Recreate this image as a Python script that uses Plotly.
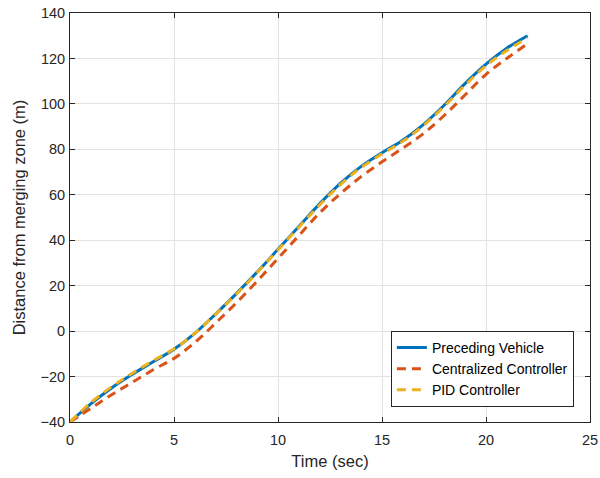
import plotly.graph_objects as go

t = [0, 1, 2, 3, 4, 5, 6, 7, 8, 9, 10, 11, 12, 13, 14, 15, 16, 17, 18, 19, 20, 21, 22]
preceding = [-40, -32, -25, -19, -13.5, -8, -1, 7.5, 16.5, 26, 36, 46, 56, 65, 72.5, 78.5,
             84, 91, 99.5, 109, 117.5, 124.5, 130]
centralized = [-40, -34, -28, -22.5, -17, -12, -5, 3.5, 12.5, 22, 32, 42, 52, 60.5, 68, 74.5,
               80.5, 87, 95, 104, 113, 120, 126.5]
pid = [-40, -31.5, -24.5, -18.5, -13, -7.8, -1, 7.5, 16.3, 25.8, 35.7, 45.7, 55.5, 64.5, 72,
       78, 83.5, 90.5, 99, 108.3, 116.8, 123.5, 129]

x_ticks = [0, 5, 10, 15, 20, 25]
y_ticks = [-40, -20, 0, 20, 40, 60, 80, 100, 120, 140]

fig = go.Figure()
fig.add_trace(go.Scatter(x=t, y=preceding, mode="lines", name="Preceding Vehicle",
                         line=dict(color="#0072BD", width=3, shape="spline")))
fig.add_trace(go.Scatter(x=t, y=centralized, mode="lines", name="Centralized Controller",
                         line=dict(color="#D95319", width=3, dash="9px,6px", shape="spline")))
fig.add_trace(go.Scatter(x=t, y=pid, mode="lines", name="PID Controller",
                         line=dict(color="#EDB120", width=3, dash="9px,6px", shape="spline")))

axis_common = dict(
    showgrid=True, gridcolor="#e3e3e3", gridwidth=1,
    showline=True, linecolor="#262626", linewidth=1, mirror="ticks",
    ticks="inside", ticklen=5, tickcolor="#262626",
    tickfont=dict(family="Liberation Sans, Arial, sans-serif", size=14.5, color="#262626"),
    zeroline=False, automargin=False,
)

fig.update_layout(
    width=600, height=478,
    margin=dict(l=70, r=10, t=13, b=56, autoexpand=False),
    paper_bgcolor="white", plot_bgcolor="white",
    font=dict(family="Liberation Sans, Arial, sans-serif", color="#262626"),
    xaxis=dict(range=[0, 25], tickvals=x_ticks, ticklabelstandoff=5,
               title=dict(text="Time (sec)", font=dict(size=16.5), standoff=8), **axis_common),
    yaxis=dict(range=[-40, 140], tickvals=y_ticks, ticklabelstandoff=1,
               title=dict(text="Distance from merging zone (m)", font=dict(size=16.5), standoff=10),
               **axis_common),
    legend=dict(x=0.969, y=0.037, xanchor="right", yanchor="bottom",
                bgcolor="white", bordercolor="#262626", borderwidth=1,
                font=dict(size=14, color="#000000"), tracegroupgap=0),
    showlegend=True,
)

fig.write_html("out.html")
